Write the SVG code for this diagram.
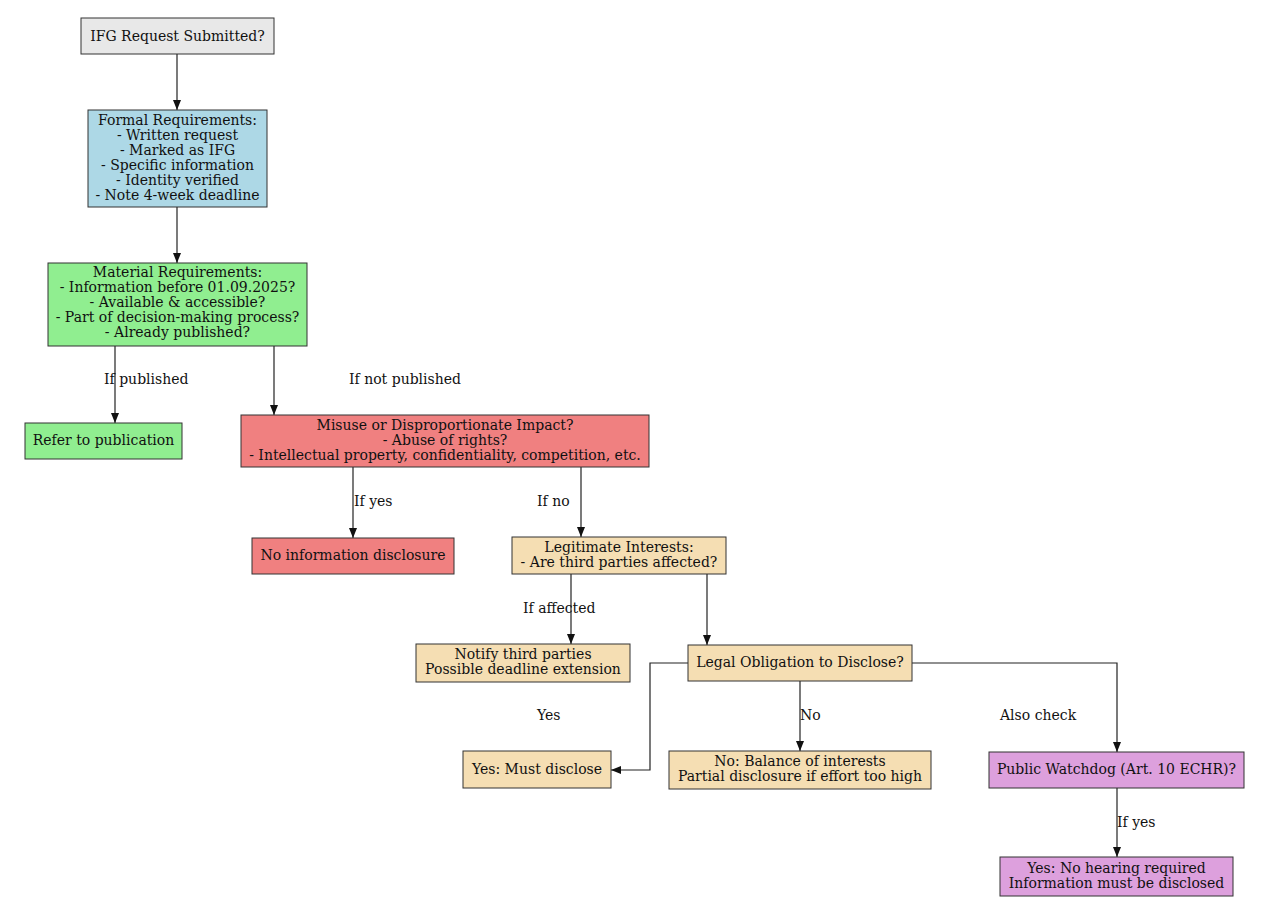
<svg xmlns="http://www.w3.org/2000/svg" width="1264" height="907" viewBox="0 0 1264 907">
<style>
text{font-family:"DejaVu Serif",serif;font-size:14px;fill:#111;text-anchor:middle}
.n{stroke:#333;stroke-width:1}
.e{fill:none;stroke:#222;stroke-width:1.2}
.lbl{text-anchor:start}
</style>
<defs>
<marker id="ah" markerWidth="10" markerHeight="8" refX="10" refY="4" orient="auto" markerUnits="userSpaceOnUse">
<path d="M0,0 L10,4 L0,8 Z" fill="#111"/>
</marker>
</defs>
<rect width="1264" height="907" fill="#fff"/>
<g id="connectors">
<path class="e" d="M177,54 V110" marker-end="url(#ah)"/>
<path class="e" d="M177,207 V263" marker-end="url(#ah)"/>
<path class="e" d="M115,346 V423" marker-end="url(#ah)"/>
<path class="e" d="M274,346 V415" marker-end="url(#ah)"/>
<path class="e" d="M353,467 V538" marker-end="url(#ah)"/>
<path class="e" d="M581,467 V537" marker-end="url(#ah)"/>
<path class="e" d="M571,574 V644" marker-end="url(#ah)"/>
<path class="e" d="M707,574 V645" marker-end="url(#ah)"/>
<path class="e" d="M688,663 H650 V770 H611" marker-end="url(#ah)"/>
<path class="e" d="M800,681 V751" marker-end="url(#ah)"/>
<path class="e" d="M912,663 H1117 V752" marker-end="url(#ah)"/>
<path class="e" d="M1117,788 V857" marker-end="url(#ah)"/>
<text class="lbl" x="104" y="384">If published</text>
<text class="lbl" x="349" y="384">If not published</text>
<text class="lbl" x="354" y="506">If yes</text>
<text class="lbl" x="537" y="506">If no</text>
<text class="lbl" x="523" y="613">If affected</text>
<text class="lbl" x="537" y="720">Yes</text>
<text class="lbl" x="800" y="720">No</text>
<text class="lbl" x="1000" y="720">Also check</text>
<text class="lbl" x="1117" y="827">If yes</text>
</g>
<g id="n1"><rect class="n" x="81" y="18" width="193" height="36" fill="#e8e8e8"/><text x="177.5" y="41">IFG Request Submitted?</text></g>
<g id="n2"><rect class="n" x="88" y="110" width="179" height="97" fill="#add8e6"/>
<text x="177.5" y="125">Formal Requirements:</text>
<text x="177.5" y="140">- Written request</text>
<text x="177.5" y="155">- Marked as IFG</text>
<text x="177.5" y="170">- Specific information</text>
<text x="177.5" y="185">- Identity verified</text>
<text x="177.5" y="200">- Note 4-week deadline</text></g>
<g id="n3"><rect class="n" x="48" y="263" width="259" height="83" fill="#90ee90"/>
<text x="177.5" y="277">Material Requirements:</text>
<text x="177.5" y="292">- Information before 01.09.2025?</text>
<text x="177.5" y="307">- Available &amp; accessible?</text>
<text x="177.5" y="322">- Part of decision-making process?</text>
<text x="177.5" y="337">- Already published?</text></g>
<g id="n4"><rect class="n" x="25" y="423" width="157" height="36" fill="#90ee90"/><text x="103.5" y="445">Refer to publication</text></g>
<g id="n5"><rect class="n" x="241" y="415" width="408" height="52" fill="#f08080"/>
<text x="445" y="430">Misuse or Disproportionate Impact?</text>
<text x="445" y="445">- Abuse of rights?</text>
<text x="445" y="460">- Intellectual property, confidentiality, competition, etc.</text></g>
<g id="n6"><rect class="n" x="252" y="538" width="202" height="36" fill="#f08080"/><text x="353" y="560">No information disclosure</text></g>
<g id="n7"><rect class="n" x="512" y="537" width="214" height="37" fill="#f5deb3"/>
<text x="619" y="552">Legitimate Interests:</text>
<text x="619" y="567">- Are third parties affected?</text></g>
<g id="n8"><rect class="n" x="416" y="644" width="214" height="38" fill="#f5deb3"/>
<text x="523" y="659">Notify third parties</text>
<text x="523" y="674">Possible deadline extension</text></g>
<g id="n9"><rect class="n" x="688" y="645" width="224" height="36" fill="#f5deb3"/><text x="800" y="667">Legal Obligation to Disclose?</text></g>
<g id="n10"><rect class="n" x="463" y="751" width="148" height="37" fill="#f5deb3"/><text x="537" y="774">Yes: Must disclose</text></g>
<g id="n11"><rect class="n" x="669" y="751" width="262" height="38" fill="#f5deb3"/>
<text x="800" y="766">No: Balance of interests</text>
<text x="800" y="781">Partial disclosure if effort too high</text></g>
<g id="n12"><rect class="n" x="989" y="752" width="255" height="36" fill="#dda0dd"/><text x="1116.5" y="774">Public Watchdog (Art. 10 ECHR)?</text></g>
<g id="n13"><rect class="n" x="1000" y="857" width="233" height="39" fill="#dda0dd"/>
<text x="1116.5" y="873">Yes: No hearing required</text>
<text x="1116.5" y="888">Information must be disclosed</text></g>
</svg>
